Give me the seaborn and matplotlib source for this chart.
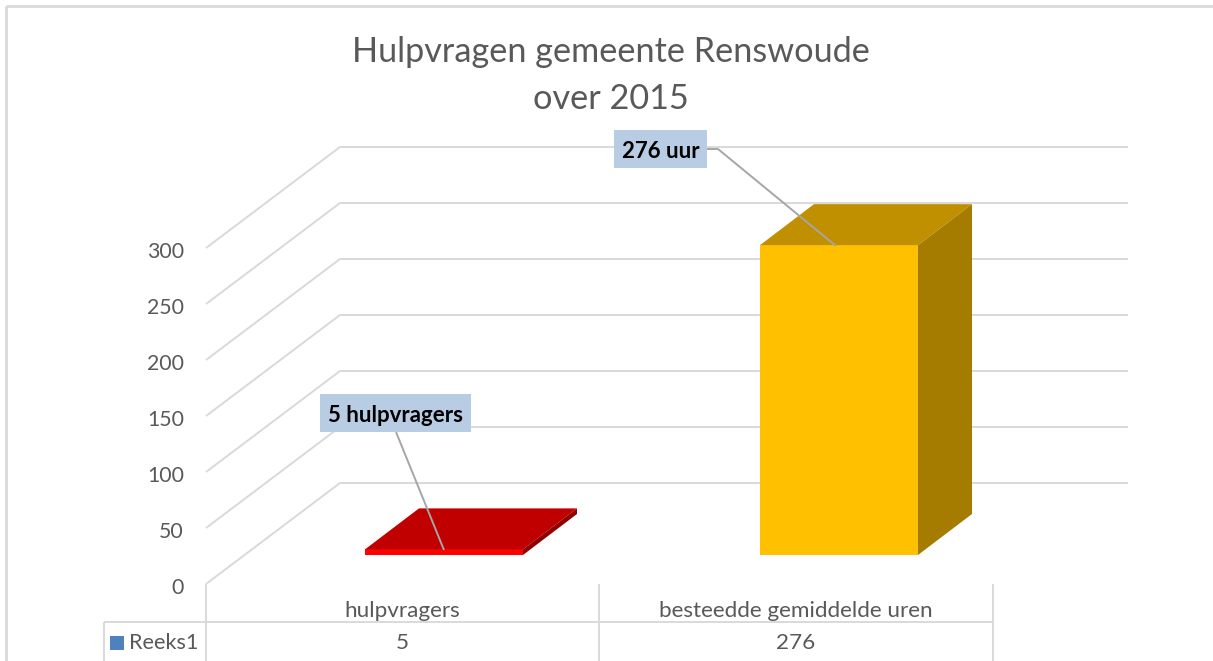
import matplotlib
matplotlib.use("Agg")
import matplotlib.pyplot as plt
from matplotlib.patches import Polygon, Rectangle
from matplotlib.transforms import Affine2D
import seaborn as sns

# Data
categories = ['hulpvragers', 'besteedde gemiddelde uren']
values = [5, 276]
callouts = ['5 hulpvragers', '276 uur']
series_name = 'Reeks1'
y_ticks = [0, 50, 100, 150, 200, 250, 300]
title = 'Hulpvragen gemeente Renswoude\nover 2015'

# Colours
front_cols = ['#FF0000', '#FFC000']
top_cols = ['#C00000', '#C09000']
side_cols = ['#900000', '#A67C00']
grid_col = '#D9D9D9'
text_col = '#595959'

W, H = 1213, 661
sns.set_theme(style='white')
plt.rcParams['font.family'] = ['Lato', 'DejaVu Sans']

fig = plt.figure(figsize=(W / 100, H / 100), dpi=100, facecolor='white')
# bars' front plane: y=0 at pixel row 555, x=-0.5..1.5 over 246.5..1036.5
ax = fig.add_axes([246.5 / W, (H - 555) / H, 790 / W, 336.8 / H])
ax.patch.set_alpha(0)

sns.barplot(x=categories, y=values, hue=categories, palette=front_cols, saturation=1,
            width=0.4, legend=False, ax=ax, zorder=3)
ax.set_xlim(-0.5, 1.5)
ax.set_ylim(0, 300)
ax.axis('off')

# pixel coordinates, origin top left
px = Affine2D().scale(1, -1).translate(0, H)

# ---- depth of the bars ----
dx = 54 / 395
dy = 41 / 1.1227
for bar, top_c, side_c in zip(ax.patches, top_cols, side_cols):
    bar.set_linewidth(0)
    x0, w, h = bar.get_x(), bar.get_width(), bar.get_height()
    ax.add_patch(Polygon([(x0, h), (x0 + dx, h + dy), (x0 + w + dx, h + dy), (x0 + w, h)],
                         fc=top_c, ec='none', zorder=3, clip_on=False))
    ax.add_patch(Polygon([(x0 + w, 0), (x0 + w + dx, dy), (x0 + w + dx, h + dy), (x0 + w, h)],
                         fc=side_c, ec='none', zorder=3, clip_on=False))


def pline(xs, ys, color=grid_col, lw=1.4, zorder=1):
    ax.plot(xs, ys, color=color, lw=lw, transform=px, clip_on=False, zorder=zorder,
            solid_capstyle='butt')


# ---- walls, gridlines, y labels ----
for v in y_ticks:
    yf = 584 - v * 1.12
    pline([206, 340, 1128], [yf, yf - 101, yf - 101])
    ax.text(184, yf + 4, str(v), transform=px, ha='right', va='center',
            fontsize=15.3, color=text_col, clip_on=False)

# ---- data table under the chart ----
pline([104, 993], [622, 622])
pline([104, 104], [622, 661])
for xv in [206, 599, 993]:
    pline([xv, xv], [584, 661])
for xc, cat, val in zip([402.5, 796], categories, values):
    ax.text(xc, 611, cat, transform=px, ha='center', va='center', fontsize=16.2, color=text_col)
    ax.text(xc, 643, str(val), transform=px, ha='center', va='center', fontsize=16.2, color=text_col)
ax.add_patch(Rectangle((110, 636), 14, 14, transform=px, fc='#4F81BD', ec='none', clip_on=False))
ax.text(129, 643, series_name, transform=px, ha='left', va='center', fontsize=15.6, color=text_col)

# ---- outer frame ----
pline([6, 6], [6, 661], lw=2)
pline([6, W], [6, 6], lw=2)

# ---- callouts ----
boxes = [(320, 394, 151, 38), (614, 130, 93, 38)]
leaders = [([396, 444], [432, 550]), ([707, 718, 836], [149, 149, 246])]
for (bx, by, bw, bh), (lx, ly), label in zip(boxes, leaders, callouts):
    pline(lx, ly, color='#A6A6A6', lw=1.4, zorder=5)
    ax.add_patch(Rectangle((bx, by), bw, bh, transform=px, fc='#B8CCE4', ec='none',
                           zorder=6, clip_on=False))
    ax.text(bx + bw / 2, by + bh / 2 + 2, label, transform=px, ha='center', va='center',
            fontsize=16, fontweight='bold', color='black', zorder=7)

# ---- title ----
ax.text(611, 75.5, title, transform=px, ha='center', va='center', fontsize=24.7,
        color=text_col, linespacing=1.55)

fig.savefig('out.png', dpi=100)
